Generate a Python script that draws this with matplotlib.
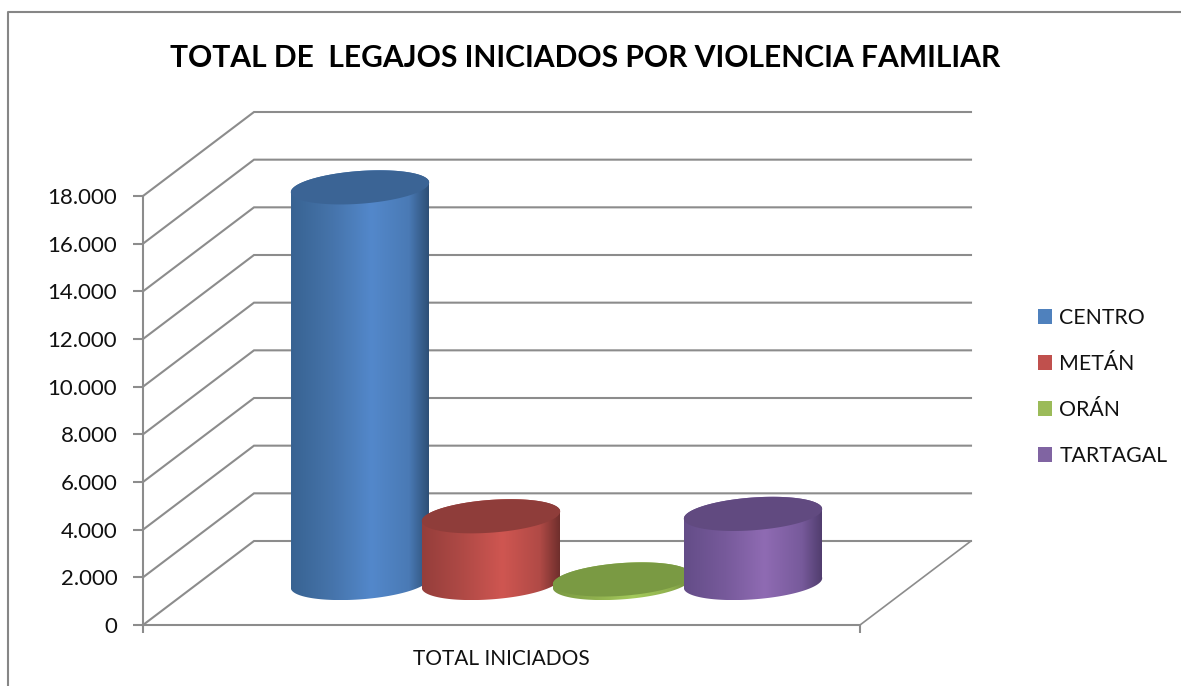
import numpy as np
import matplotlib
matplotlib.use("Agg")
import matplotlib.pyplot as plt
from matplotlib.colors import LinearSegmentedColormap
from matplotlib.lines import Line2D
from matplotlib.patches import Patch, Polygon

plt.rcParams["font.family"] = ["Lato", "DejaVu Sans"]

W, H = 1181, 686

TITLE = "TOTAL DE  LEGAJOS INICIADOS POR VIOLENCIA FAMILIAR"
CATEGORY = "TOTAL INICIADOS"
REGIONS = ["CENTRO", "METÁN", "ORÁN", "TARTAGAL"]
VALUES = [16600, 2800, 150, 2900]
Y_TICKS = [0, 2000, 4000, 6000, 8000, 10000, 12000, 14000, 16000, 18000]
Y_TICK_LABELS = ["0", "2.000", "4.000", "6.000", "8.000", "10.000", "12.000", "14.000", "16.000", "18.000"]

LEGEND_COLORS = ["#4f81bd", "#c0504d", "#9bbb59", "#8064a2"]
TOP_COLORS = ["#3b6495", "#8f3d3a", "#7a9a43", "#614a80"]
BODY_SHADES = [
    ["#386392", "#4674ab", "#5388cb", "#4a7ab5", "#2c4d73"],
    ["#953e3b", "#b04a46", "#cf5651", "#b04a46", "#6c2d2b"],
    ["#7a9a43", "#8fb04e", "#a4ca5c", "#8fb04e", "#6d8a3c"],
    ["#644d88", "#775a9b", "#8f6bb3", "#775a9b", "#4f3c6c"],
]

GRID = "#8c8c8c"
# px sizes of the fake 3d box and the cylinders
AX_LEFT, AX_RIGHT, AX_TOP, AX_BOTTOM = 143, 860, 196, 625
PX_PER_X = 131.0
X0_PX = 360.0
DEPTH_PX = (111, 84)


def px_x(px):
    return (px - X0_PX) / PX_PER_X


def cylinder_outline(cx, cy, x_unit, y_unit, t):
    # tilted ellipse, right side sits higher than left
    x = cx + (69 * np.cos(t) - 5 * np.sin(t)) * x_unit
    y = cy + (6 * np.cos(t) + 16 * np.sin(t)) * y_unit
    return x, y


fig = plt.figure(figsize=(W / 100, H / 100), dpi=100)
ax = fig.add_axes([
    AX_LEFT / W,
    1 - AX_BOTTOM / H,
    (AX_RIGHT - AX_LEFT) / W,
    (AX_BOTTOM - AX_TOP) / H,
])
ax.patch.set_alpha(0)
ax.set_xlim(px_x(AX_LEFT), px_x(AX_RIGHT))
ax.set_ylim(0, 18000)

y_per_px = 18000 / (AX_BOTTOM - AX_TOP)
x_per_px = 1 / PX_PER_X
depth_x = DEPTH_PX[0] * x_per_px
depth_y = DEPTH_PX[1] * y_per_px

# walls
x_left, x_right = ax.get_xlim()
for v in Y_TICKS:
    ax.plot([x_left, x_left + depth_x, x_right + depth_x],
            [v, v + depth_y, v + depth_y],
            color=GRID, lw=1.5, clip_on=False, zorder=1, solid_joinstyle="miter")
ax.plot([x_right, x_right + depth_x], [0, depth_y], color=GRID, lw=1.2, clip_on=False, zorder=1)

for s in ["top", "right"]:
    ax.spines[s].set_visible(False)
for s in ["left", "bottom"]:
    ax.spines[s].set_color(GRID)
    ax.spines[s].set_linewidth(1.5)
ax.set_yticks(Y_TICKS, Y_TICK_LABELS)
ax.set_xticks([x_left, x_right], ["", ""])
ax.set_xticks([(x_left + x_right) / 2], [CATEGORY], minor=True)
ax.tick_params(axis="y", color=GRID, width=1.5, length=7, labelsize=16, pad=11.5, labelcolor="#111111")
ax.tick_params(axis="x", which="major", color=GRID, width=1.5, length=6)
ax.tick_params(axis="x", which="minor", length=0, labelsize=15, pad=17, labelcolor="#111111")

# cylinders
t_low = np.linspace(np.pi, 2 * np.pi, 80)
t_up = np.linspace(0, np.pi, 80)
t_all = np.linspace(0, 2 * np.pi, 160)
base_y = depth_y / 2

for i, value in enumerate(VALUES):
    top_y = base_y + value
    bx, by = cylinder_outline(i, base_y, x_per_px, y_per_px, t_low)
    tx, ty = cylinder_outline(i, top_y, x_per_px, y_per_px, t_up)
    outline = np.column_stack([np.r_[bx, tx], np.r_[by, ty]])
    body = Polygon(outline, closed=True, transform=ax.transData, fc="none", ec="none")
    ax.add_patch(body)
    body.set_clip_on(False)

    cmap = LinearSegmentedColormap.from_list(
        REGIONS[i], list(zip([0, 0.3, 0.58, 0.85, 1], BODY_SHADES[i]))
    )
    im = ax.imshow(
        np.linspace(0, 1, 256)[None, :],
        cmap=cmap,
        aspect="auto",
        origin="lower",
        extent=[bx.min(), bx.max(), by.min(), ty.max()],
        zorder=3 + i,
    )
    im.set_clip_box(fig.bbox)
    im.set_clip_path(body)

    ex, ey = cylinder_outline(i, top_y, x_per_px, y_per_px, t_all)
    ax.fill(ex, ey, color=TOP_COLORS[i], lw=0, clip_on=False, zorder=3 + i)

ax.set_xlim(x_left, x_right)
ax.set_ylim(0, 18000)

fig.text(585 / W, 1 - 58 / H, TITLE, fontsize=21.6, fontweight="bold", ha="center", va="center", color="black")

handles = [Patch(fc=c, ec="none") for c in LEGEND_COLORS]
fig.legend(
    handles, REGIONS,
    loc="center left",
    bbox_to_anchor=(1019 / W, 1 - 387 / H),
    frameon=False,
    fontsize=15.3,
    labelspacing=1.22,
    handlelength=0.66,
    handleheight=0.66,
    handletextpad=0.33,
    labelcolor="#111111",
)

# chart border, right and bottom run off the crop
fig.add_artist(Line2D([8 / W, 8 / W, 1], [0, 1 - 12 / H, 1 - 12 / H], color="#868686", lw=1.5))

fig.savefig("out.png", dpi=100)
